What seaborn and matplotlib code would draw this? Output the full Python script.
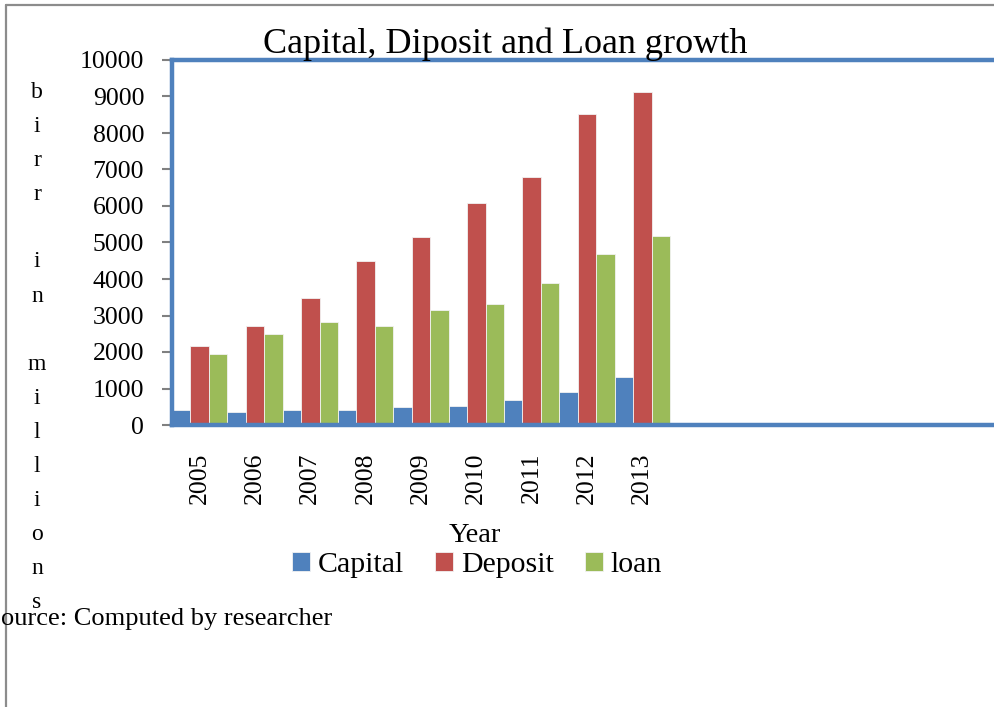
import matplotlib
matplotlib.use("Agg")
import matplotlib.pyplot as plt
from matplotlib.lines import Line2D
import seaborn as sns
import pandas as pd

years = ["2005", "2006", "2007", "2008", "2009", "2010", "2011", "2012", "2013"]
capital = [404, 349, 412, 420, 486, 522, 695, 906, 1319]
deposit = [2170, 2720, 3480, 4500, 5145, 6090, 6785, 8515, 9110]
loan = [1940, 2500, 2820, 2700, 3150, 3315, 3900, 4680, 5165]
series_names = ["Capital", "Deposit", "loan"]
colors = ["#4F81BD", "#C0504D", "#9BBB59"]
yticks = list(range(0, 10001, 1000))

rows = []
for name, vals in zip(series_names, [capital, deposit, loan]):
    for y, v in zip(years, vals):
        rows.append({"Year": y, "series": name, "value": v})
df = pd.DataFrame(rows)

sns.set_style("white")
SERIF = ["Liberation Serif", "DejaVu Serif"]
plt.rcParams["font.family"] = SERIF
plt.rcParams["text.color"] = "black"
plt.rcParams["xtick.color"] = "black"
plt.rcParams["ytick.color"] = "black"
plt.rcParams["xtick.labelcolor"] = "black"
plt.rcParams["ytick.labelcolor"] = "black"

W, H = 995, 707
fig = plt.figure(figsize=(W / 100, H / 100), dpi=100)

def fx(px):
    return px / W

def fy(py):
    return 1 - py / H

ax_left, ax_right, ax_top, ax_bottom = 172, 1005, 60, 425
ax = fig.add_axes([fx(ax_left), fy(ax_bottom), (ax_right - ax_left) / W, (ax_bottom - ax_top) / H])

sns.barplot(data=df, x="Year", y="value", hue="series", palette=colors,
            width=1.0, gap=0, ax=ax, edgecolor="#f2f2f2", linewidth=0.6,
            saturation=1)

group_px = (670 - 172) / 9
units = (ax_right - ax_left) / group_px
ax.set_xlim(-0.5, -0.5 + units)
ax.set_ylim(0, 10000)
ax.set_yticks(yticks)
ax.set_yticklabels([str(t) for t in yticks], fontsize=18.5, color="black")
ax.set_xticks(range(len(years)))
ax.set_xticklabels(years, rotation=90, fontsize=18.5, color="black")
ax.set_xlabel("")
ax.set_ylabel("")
ax.tick_params(axis="y", length=7, width=1.5, color="#808080", pad=13, direction="out", left=True)
ax.tick_params(axis="x", length=0, pad=20, bottom=False)

for side in ["left", "top", "bottom", "right"]:
    ax.spines[side].set_color("#4F81BD")
    ax.spines[side].set_linewidth(3.2)
    ax.spines[side].set_visible(True)

leg = ax.get_legend()
if leg is not None:
    leg.remove()
handles, labels = ax.get_legend_handles_labels()
fig.legend(handles, labels, loc="center", bbox_to_anchor=(fx(477), fy(565)),
           ncol=3, frameon=False, fontsize=21.5, handlelength=0.6, handleheight=0.6,
           handletextpad=0.25, columnspacing=1.05, labelcolor="black")

fig.text(fx(505), fy(44), "Capital, Diposit and Loan growth", ha="center", va="center", fontsize=26, color="black")
fig.text(fx(475), fy(536), "Year", ha="center", va="center", fontsize=20.5, color="black")
fig.text(fx(1), fy(619), "ource: Computed by researcher", ha="left", va="center", fontsize=19, color="black")

ylabel_letters = list("birr in millions")
for i, ch in enumerate(ylabel_letters):
    if ch != " ":
        fig.text(fx(37), fy(92 + i * 34.0), ch, ha="center", va="center", fontsize=17, color="black")

fig.add_artist(Line2D([fx(6), fx(6)], [fy(5), 0], color="#8c8c8c", lw=1.6, transform=fig.transFigure))
fig.add_artist(Line2D([fx(6), 1], [fy(5), fy(5)], color="#8c8c8c", lw=1.6, transform=fig.transFigure))

fig.savefig("out.png", dpi=100)
